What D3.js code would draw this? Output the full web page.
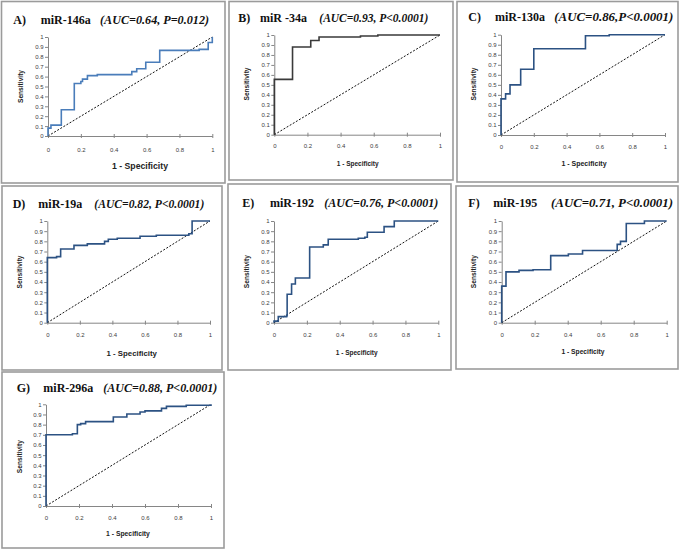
<!DOCTYPE html>
<html><head><meta charset="utf-8">
<script src="https://cdn.jsdelivr.net/npm/d3@7"></script>
<style>body{margin:0;background:#fff}</style>
</head><body>
<svg id="c" width="680" height="550"></svg>
<script>
// ---------- data ----------
const panelLetters = ["A)", "B)", "C)", "D)", "E)", "F)", "G)"];
const markerNames = ["miR-146a", "miR -34a", "miR-130a", "miR-19a", "miR-192", "miR-195", "miR-296a"];
const statTexts = ["(AUC=0.64, P=0.012)", "(AUC=0.93, P<0.0001)", "(AUC=0.86,P<0.0001)",
  "(AUC=0.82, P<0.0001)", "(AUC=0.76, P<0.0001)", "(AUC=0.71, P<0.0001)", "(AUC=0.88, P<0.0001)"];
const xTickValues = [0, 0.2, 0.4, 0.6, 0.8, 1];
const xTickLabels = ["0", "0.2", "0.4", "0.6", "0.8", "1"];
const yTickValues = [0, 0.1, 0.2, 0.3, 0.4, 0.5, 0.6, 0.7, 0.8, 0.9, 1];
const yTickLabels = ["0", "0.1", "0.2", "0.3", "0.4", "0.5", "0.6", "0.7", "0.8", "0.9", "1"];
const xAxisTitle = "1 - Specificity";
const yAxisTitle = "Sensitivity";

// ROC curves as [1 - specificity, sensitivity]
const rocA = [[0,0],[0,0.08],[0.018,0.08],[0.018,0.11],[0.081,0.11],[0.081,0.265],[0.16,0.265],[0.16,0.53],
  [0.2,0.53],[0.2,0.55],[0.21,0.55],[0.21,0.575],[0.24,0.575],[0.24,0.61],[0.3,0.61],[0.3,0.62],[0.51,0.62],
  [0.51,0.65],[0.54,0.65],[0.54,0.68],[0.595,0.68],[0.595,0.745],[0.68,0.745],[0.68,0.865],[0.92,0.865],
  [0.92,0.875],[0.975,0.875],[0.975,0.945],[1,0.945],[1,1]];
const rocB = [[0,0],[0,0.555],[0.11,0.555],[0.11,0.88],[0.22,0.88],[0.22,0.945],[0.27,0.945],[0.27,0.98],
  [0.52,0.98],[0.52,0.99],[0.625,0.99],[0.625,1],[1,1]];
const rocC = [[0,0],[0,0.36],[0.028,0.36],[0.028,0.41],[0.055,0.41],[0.055,0.5],[0.12,0.5],[0.12,0.655],
  [0.2,0.655],[0.2,0.86],[0.515,0.86],[0.515,0.99],[0.66,0.99],[0.66,1],[1,1]];
const rocD = [[0,0],[0,0.64],[0.057,0.64],[0.057,0.65],[0.082,0.65],[0.082,0.725],[0.164,0.725],[0.164,0.76],
  [0.246,0.76],[0.246,0.775],[0.352,0.775],[0.352,0.8],[0.375,0.8],[0.375,0.82],[0.43,0.82],[0.43,0.83],
  [0.57,0.83],[0.57,0.85],[0.67,0.85],[0.67,0.86],[0.87,0.86],[0.87,0.875],[0.89,0.875],[0.89,1],[1,1]];
const rocE = [[0,0],[0,0.015],[0.026,0.015],[0.026,0.06],[0.077,0.06],[0.077,0.07],[0.08,0.07],[0.08,0.28],
  [0.107,0.28],[0.107,0.38],[0.13,0.38],[0.13,0.44],[0.217,0.44],[0.217,0.745],[0.3,0.745],[0.3,0.765],
  [0.33,0.765],[0.33,0.82],[0.513,0.82],[0.513,0.83],[0.553,0.83],[0.553,0.84],[0.568,0.84],[0.568,0.89],
  [0.67,0.89],[0.67,0.945],[0.732,0.945],[0.732,1],[1,1]];
const rocF = [[0,0],[0,0.36],[0.026,0.36],[0.026,0.5],[0.105,0.5],[0.105,0.515],[0.19,0.515],[0.19,0.52],
  [0.297,0.52],[0.297,0.66],[0.404,0.66],[0.404,0.675],[0.49,0.675],[0.49,0.71],[0.7,0.71],[0.7,0.77],
  [0.72,0.77],[0.72,0.8],[0.755,0.8],[0.755,0.975],[0.865,0.975],[0.865,1],[1,1]];
const rocG = [[0,0],[0,0.7],[0.16,0.7],[0.16,0.71],[0.19,0.71],[0.19,0.8],[0.21,0.8],[0.21,0.81],[0.24,0.81],
  [0.24,0.83],[0.408,0.83],[0.408,0.875],[0.49,0.875],[0.49,0.905],[0.57,0.905],[0.57,0.925],[0.6,0.925],
  [0.6,0.935],[0.7,0.935],[0.7,0.96],[0.73,0.96],[0.73,0.98],[0.85,0.98],[0.85,0.99],[1,0.99],[1,1]];
const curves = [rocA, rocB, rocC, rocD, rocE, rocF, rocG];

// ---------- layout (positions/styles) ----------
const layout = [
  {frame:[1.5,1.5,225,183], plot:[48,37,212.3,136], titleY:24, lx:13.3, mx:40.7, sx:100, sw:109,
   xtX:140, xtY:166, xtFs:8.7, ylX:20.7, ylY:86.5, tdy:14, color:"#4a7dba"},
  {frame:[229,1.5,453,180], plot:[274.3,35,440,134.7], titleY:21.7, lx:238.3, mx:260, sx:319.3, sw:109,
   xtX:357.7, xtY:164, xtFs:6.5, ylX:246.7, ylY:84, tdy:11.5, color:"#3a3a3a"},
  {frame:[457,1.5,678,182], plot:[501,34.7,665,135], titleY:20.7, lx:468.3, mx:495, sx:554.3, sw:119,
   xtX:584, xtY:164, xtFs:7, ylX:473.3, ylY:84, tdy:11.5, color:"#2c5283"},
  {frame:[2,186,222,370], plot:[47.3,221,210,322.7], titleY:208.3, lx:12.7, mx:38.3, sx:94.3, sw:110,
   xtX:131.7, xtY:353, xtFs:7.8, ylX:20, ylY:272, tdy:12.3, color:"#2c5283"},
  {frame:[228,184,451,370], plot:[274,221,438.3,322.7], titleY:206.7, lx:242.3, mx:270, sx:324.3, sw:114,
   xtX:356.7, xtY:352.7, xtFs:6.5, ylX:246.7, ylY:271.7, tdy:12.3, color:"#2c5283"},
  {frame:[456,186,678,369], plot:[501.7,221,666.7,322.7], titleY:207.3, lx:468.3, mx:493.3, sx:551, sw:122,
   xtX:583, xtY:351.7, xtFs:6.7, ylX:473.3, ylY:271.7, tdy:12.3, color:"#2c5283"},
  {frame:[2,372,224,548], plot:[46,404.3,211,506], titleY:391.7, lx:16.7, mx:43.3, sx:103.3, sw:114,
   xtX:128, xtY:533.3, xtFs:6.8, ylX:20, ylY:456.7, tdy:12.3, color:"#2c5283"}
];

const svg = d3.select("#c");
const axisColor = "#868686";

layout.forEach((L, i) => {
  const g = svg.append("g");
  const [fx0, fy0, fx1, fy1] = L.frame;
  g.append("rect").attr("x", fx0).attr("y", fy0).attr("width", fx1 - fx0).attr("height", fy1 - fy0)
    .attr("fill", "none").attr("stroke", "#9b9b9b").attr("stroke-width", 1.6);

  const [px0, py0, px1, py1] = L.plot;
  const x = d3.scaleLinear().domain([0, 1]).range([px0, px1]);
  const y = d3.scaleLinear().domain([0, 1]).range([py1, py0]);

  // titles
  const t = g.append("text").attr("y", L.titleY).attr("font-family", "Liberation Serif, Times New Roman, serif")
    .attr("font-weight", "bold").attr("font-size", 12).attr("fill", "#111");
  g.append("text").attr("x", L.lx).attr("y", L.titleY).attr("font-family", "Liberation Serif, serif")
    .attr("font-weight", "bold").attr("font-size", 12).attr("fill", "#111").text(panelLetters[i]);
  g.append("text").attr("x", L.mx).attr("y", L.titleY).attr("font-family", "Liberation Serif, serif")
    .attr("font-weight", "bold").attr("font-size", 12).attr("fill", "#111").text(markerNames[i]);
  g.append("text").attr("x", L.sx).attr("y", L.titleY).attr("font-family", "Liberation Serif, serif")
    .attr("font-weight", "bold").attr("font-style", "italic").attr("font-size", 12).attr("fill", "#111")
    .attr("textLength", L.sw).attr("lengthAdjust", "spacingAndGlyphs").text(statTexts[i]);
  t.remove();

  // y axis
  const ya = g.append("g").attr("transform", `translate(${px0},0)`)
    .call(d3.axisLeft(y).tickValues(yTickValues).tickSize(3).tickSizeOuter(0)
      .tickFormat((d, k) => yTickLabels[k]));
  // x axis
  const xa = g.append("g").attr("transform", `translate(0,${py1})`)
    .call(d3.axisBottom(x).tickValues(xTickValues).tickSize(4).tickSizeOuter(0)
      .tickFormat((d, k) => xTickLabels[k]));
  xa.selectAll(".tick line").attr("y1", -2).attr("y2", 2);
  xa.selectAll(".tick text").attr("y", L.tdy).attr("dy", "0.35em");
  ya.selectAll(".tick text").attr("x", -4.5);
  [ya, xa].forEach(a => {
    a.select(".domain").attr("stroke", axisColor).attr("stroke-width", 1);
    a.selectAll(".tick line").attr("stroke", axisColor);
    a.selectAll(".tick text").attr("fill", "#404040").attr("font-size", 6)
      .attr("font-family", "Liberation Sans, Arial, sans-serif");
  });

  // axis titles
  g.append("text").attr("x", L.xtX).attr("y", L.xtY).attr("text-anchor", "middle").attr("dy", "0.35em")
    .attr("font-family", "Liberation Sans, Arial, sans-serif").attr("font-weight", "bold")
    .attr("font-size", L.xtFs).attr("fill", "#222").text(xAxisTitle);
  g.append("text").attr("transform", `translate(${L.ylX},${L.ylY}) rotate(-90)`).attr("text-anchor", "middle")
    .attr("dy", "0.35em").attr("font-family", "Liberation Sans, Arial, sans-serif").attr("font-weight", "bold")
    .attr("font-size", 6.6).attr("fill", "#222").text(yAxisTitle);

  // diagonal reference
  g.append("path").attr("d", d3.line().x(d => x(d[0])).y(d => y(d[1]))([[0, 0], [1, 1]]))
    .attr("stroke", "#111").attr("stroke-width", 1).attr("stroke-dasharray", "2,1.6").attr("fill", "none");

  // ROC curve
  g.append("path").attr("d", d3.line().x(d => x(d[0])).y(d => y(d[1]))(curves[i]))
    .attr("stroke", L.color).attr("stroke-width", 1.6).attr("fill", "none");
});
</script>
</body></html>
